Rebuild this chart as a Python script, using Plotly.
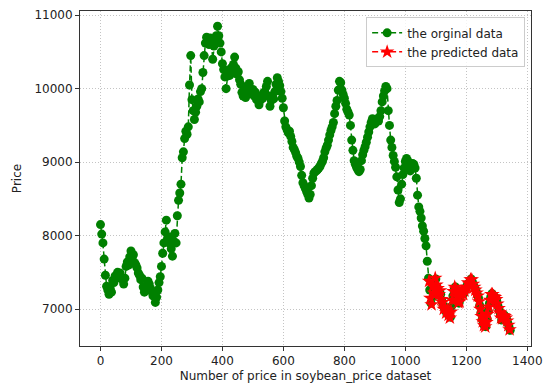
import plotly.graph_objects as go

# ---- data ----
# original series: one value every 4 positions of the dataset (index 0 .. 1344)
orig_idx = list(range(0, 1345, 4))
orig_price = [
    8150, 8020, 7900, 7680, 7460, 7310, 7260, 7200, 7280, 7230,   # 0-36
    7390, 7360, 7450, 7420, 7500, 7460, 7490, 7430, 7400, 7340,   # 40-76
    7420, 7580, 7640, 7600, 7710, 7790, 7700, 7740, 7630, 7600,   # 80-116
    7560, 7490, 7460, 7400, 7420, 7300, 7230, 7290, 7260, 7380,   # 120-156
    7340, 7280, 7240, 7180, 7200, 7090, 7160, 7260, 7360, 7440,   # 160-196
    7580, 7760, 7900, 8050, 8210, 7960, 7900, 7980, 7820, 7720,   # 200-236
    7920, 8030, 7900, 8270, 8480, 8580, 8700, 9060, 9140, 9320,   # 240-276
    9420, 9380, 9480, 10050, 10450, 9850, 9700, 9580, 9680, 9760,  # 280-316
    9860, 9820, 9960, 10000, 10220, 10450, 10620, 10700, 10630, 10600,  # 320-356
    10690, 10620, 10400, 10580, 10650, 10720, 10850, 10720, 10620, 10500,  # 360-396
    10340, 10260, 10160, 10000, 10170, 10250, 10180, 10280, 10220, 10330,  # 400-436
    10430, 10280, 10200, 10230, 10120, 10060, 9950, 9900, 9960, 9880,  # 440-476
    9980, 10020, 10070, 9980, 9930, 9990, 9900, 9950, 9850, 9880,   # 480-516
    9780, 9840, 9900, 9870, 9950, 9920, 10030, 10100, 9900, 9760,   # 520-556
    9840, 9900, 9860, 9960, 10060, 10150, 10100, 10040, 9960, 9870,  # 560-596
    9740, 9560, 9480, 9440, 9400, 9420, 9350, 9280, 9200, 9170,   # 600-636
    9130, 9080, 9050, 9000, 8940, 8820, 8720, 8680, 8640, 8600,   # 640-676
    8560, 8510, 8560, 8680, 8780, 8850, 8870, 8880, 8900, 8920,   # 680-716
    8940, 8980, 9010, 9060, 9140, 9190, 9230, 9300, 9370, 9430,   # 720-756
    9480, 9540, 9660, 9760, 9840, 9980, 10100, 10080, 9980, 9920,  # 760-796
    9870, 9800, 9720, 9680, 9640, 9500, 9300, 9160, 9020, 8970,   # 800-836
    8930, 8900, 8870, 8900, 9020, 9100, 9160, 9210, 9270, 9340,   # 840-876
    9410, 9480, 9540, 9590, 9560, 9520, 9570, 9590, 9560, 9620,   # 880-916
    9700, 9820, 9900, 9970, 10030, 10000, 9700, 9500, 9300, 9200,  # 920-956
    9090, 9010, 8930, 8800, 8620, 8450, 8500, 8700, 8830, 8920,   # 960-996
    9010, 9050, 9020, 8940, 8880, 8920, 8980, 8970, 8920, 8780,   # 1000-1036
    8550, 8390, 8330, 8240, 8130, 8060, 7960, 7860, 7650, 7420,   # 1040-1076
    7260, 7080, 7300, 7170, 7380, 7410, 7300, 7250, 7230, 7200,   # 1080-1116
    7110, 7050, 7010, 6980, 6940, 7000, 6930, 6890, 7040, 7180,   # 1120-1156
    7260, 7300, 7240, 7150, 7080, 7130, 7200, 7250, 7210, 7260,   # 1160-1196
    7300, 7330, 7350, 7380, 7410, 7370, 7320, 7280, 7250, 7200,   # 1200-1236
    7150, 7050, 6950, 6860, 6800, 6770, 6760, 6870, 6970, 7080,   # 1240-1276
    7160, 7210, 7190, 7170, 7150, 7110, 7040, 6980, 6920, 6850,   # 1280-1316
    6890, 6920, 6900, 6870, 6810, 6760, 6710,                     # 1320-1344
]

# predicted series: test part, one value every 4 positions (index 1078 .. 1342)
pred_idx = list(range(1078, 1343, 4))
pred_price = [
    7380, 7150, 7060, 7310, 7220, 7420, 7330, 7280, 7200, 7250,   # 1078-1114
    7130, 7090, 7000, 7020, 6950, 6990, 6920, 6880, 6960, 7120,   # 1118-1154
    7240, 7300, 7270, 7170, 7090, 7100, 7190, 7240, 7200, 7250,   # 1158-1194
    7290, 7300, 7360, 7340, 7400, 7400, 7340, 7300, 7260, 7220,   # 1198-1234
    7180, 7100, 7000, 6900, 6830, 6780, 6760, 6820, 6930, 7030,   # 1238-1274
    7120, 7200, 7200, 7170, 7160, 7130, 7070, 7010, 6950, 6880,   # 1278-1314
    6870, 6910, 6900, 6880, 6840, 6780, 6720,                     # 1318-1342
]

x_ticks = [0, 200, 400, 600, 800, 1000, 1200, 1400]
y_ticks = [7000, 8000, 9000, 10000, 11000]

n = min(len(orig_idx), len(orig_price))
m = min(len(pred_idx), len(pred_price))

fig = go.Figure()
fig.add_trace(go.Scatter(
    x=orig_idx[:n], y=orig_price[:n], mode="lines+markers", name="the orginal data",
    line=dict(color="#008000", width=1.5, dash="6px,3px"),
    marker=dict(symbol="circle", size=9, color="#008000", line=dict(width=0)),
))
fig.add_trace(go.Scatter(
    x=pred_idx[:m], y=pred_price[:m], mode="lines+markers", name="the predicted data",
    line=dict(color="#ff0000", width=1.5, dash="6px,3px"),
    marker=dict(symbol="star", size=11, color="#ff0000", line=dict(width=0)),
))

axis_common = dict(
    showline=True, linecolor="#333333", linewidth=1, mirror=True,
    ticks="outside", ticklen=4, tickcolor="#333333", tickwidth=1,
    showgrid=True, gridcolor="#c4c4c4", griddash="1px,2px", gridwidth=1,
    zeroline=False, tickfont=dict(family="DejaVu Sans", size=12, color="#222222"),
)

fig.update_layout(
    width=551, height=390,
    margin=dict(l=80, r=19, t=8, b=44),
    paper_bgcolor="white", plot_bgcolor="white",
    font=dict(family="DejaVu Sans", size=12, color="#222222"),
    showlegend=True,
    legend=dict(
        x=0.987, y=0.981, xanchor="right", yanchor="top",
        bgcolor="rgba(255,255,255,0.8)", bordercolor="#cccccc", borderwidth=1,
        font=dict(family="DejaVu Sans", size=12, color="#222222"),
        itemwidth=30, tracegroupgap=0,
    ),
    xaxis=dict(axis_common, range=[-67.25, 1412.25], tickvals=x_ticks, tickformat="d",
               title=dict(text="Number of price in soybean_price dataset", standoff=4,
                          font=dict(family="DejaVu Sans", size=12, color="#222222"))),
    yaxis=dict(axis_common, range=[6497, 11057], tickvals=y_ticks, tickformat="d",
               title=dict(text="Price", standoff=10,
                          font=dict(family="DejaVu Sans", size=12, color="#222222"))),
)

fig.write_html("out.html")
